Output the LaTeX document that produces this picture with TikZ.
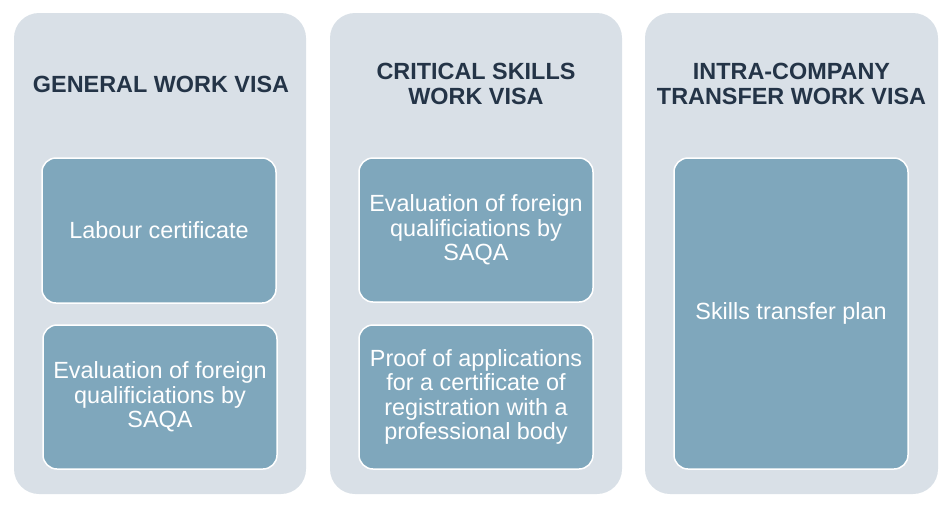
\documentclass[tikz,border=0pt]{standalone}
\usepackage{fontspec}
\setmainfont{Liberation Sans}
\definecolor{outerfill}{HTML}{D9E0E7}
\definecolor{innerfill}{HTML}{7FA7BC}
\definecolor{titlecol}{HTML}{243447}
\begin{document}
\begin{tikzpicture}[x=1pt,y=-1pt,
  outerbox/.style={fill=outerfill, draw=none, rounded corners=25pt, inner sep=0pt, outer sep=0pt},
  innerbox/.style={fill=innerfill, draw=white, line width=1.5pt, rounded corners=14pt, inner sep=0pt, outer sep=0pt,
    align=center, text=white, font=\fontsize{23.4}{24.5}\selectfont},
  titletxt/.style={font=\fontsize{23.4}{25}\selectfont\bfseries, text=titlecol, align=center, inner sep=0pt}]
\useasboundingbox (0,0) rectangle (950,509);
% columns
\node[outerbox, minimum width=292pt, minimum height=481pt] (o1) at (160,253.5) {};
\node[outerbox, minimum width=292pt, minimum height=481pt] (o2) at (476,253.5) {};
\node[outerbox, minimum width=293pt, minimum height=481pt] (o3) at (791.5,253.5) {};
% titles
\node[titletxt] (t1) at (161,84) {GENERAL WORK VISA};
\node[titletxt] (t2) at (476,84) {CRITICAL SKILLS\\WORK VISA};
\node[titletxt] (t3) at (791.5,84) {INTRA-COMPANY\\TRANSFER WORK VISA};
% inner boxes
\node[innerbox, minimum width=234pt, minimum height=145pt] (b11) at (159,230.5) {Labour certificate};
\node[innerbox, minimum width=234pt, minimum height=144pt] (b12) at (160,397) {Evaluation of foreign\\qualificiations by\\SAQA};
\node[innerbox, minimum width=234pt, minimum height=144pt] (b21) at (476,230) {Evaluation of foreign\\qualificiations by\\SAQA};
\node[innerbox, minimum width=234pt, minimum height=144pt] (b22) at (476,397) {Proof of applications\\for a certificate of\\registration with a\\professional body};
\node[innerbox, minimum width=234pt, minimum height=311pt] (b31) at (791,313.5) {Skills transfer plan};
\end{tikzpicture}
\end{document}
